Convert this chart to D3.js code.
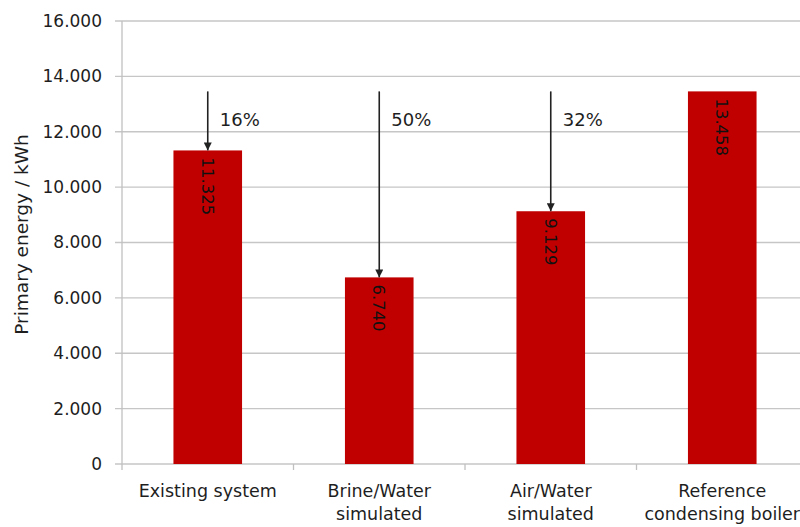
<!DOCTYPE html>
<html>
<head>
<meta charset="utf-8">
<script src="https://cdn.jsdelivr.net/npm/d3@7"></script>
<style>
  body { margin: 0; background: #fff; }
  text { font-family: "DejaVu Sans", sans-serif; fill: #1e1e1e; }
</style>
</head>
<body>
<div id="chart"></div>
<script>
// data
const categories = ["Existing system", "Brine/Water\nsimulated", "Air/Water\nsimulated", "Reference\ncondensing boiler"];
const values = [11325, 6740, 9129, 13458];
const savings = ["16%", "50%", "32%", null];
const yTicks = [0, 2000, 4000, 6000, 8000, 10000, 12000, 14000, 16000];
const referenceValue = 13458;

const W = 800, H = 527;
const margin = {top: 21, left: 122, bottom: 63};

const svg = d3.select("#chart").append("svg")
  .attr("width", W).attr("height", H);

// German style number format (dot as thousands separator)
const locale = d3.formatLocale({decimal: ",", thousands: ".", grouping: [3], currency: ["", " €"]});
const fmt = locale.format(",");

const y = d3.scaleLinear().domain([0, 16000]).range([H - margin.bottom, margin.top]);
const x = d3.scaleBand().domain(d3.range(categories.length))
  .range([margin.left, margin.left + 686])
  .paddingInner(0.6).paddingOuter(0.3);

// gridlines + y tick marks
const grid = svg.append("g");
grid.selectAll("line.grid")
  .data(yTicks)
  .enter().append("line")
  .attr("class", "grid")
  .attr("x1", margin.left - 7)
  .attr("x2", W)
  .attr("y1", d => y(d)).attr("y2", d => y(d))
  .style("stroke", "#c6c6c6")
  .style("stroke-width", 1.3);

// y tick labels
grid.selectAll("text.ytick")
  .data(yTicks)
  .enter().append("text")
  .attr("class", "ytick")
  .attr("x", margin.left - 20)
  .attr("y", d => y(d))
  .attr("dy", "0.35em")
  .attr("text-anchor", "end")
  .style("font-size", "17px")
  .text(d => fmt(d));

// y axis line
svg.append("line")
  .attr("x1", margin.left).attr("x2", margin.left)
  .attr("y1", y(16000)).attr("y2", y(0))
  .style("stroke", "#c0c0c0")
  .style("stroke-width", 1.3);

// x tick marks at band boundaries
const step = x.step();
svg.selectAll("line.xtick")
  .data(d3.range(categories.length + 1))
  .enter().append("line")
  .attr("class", "xtick")
  .attr("x1", d => margin.left + d * step)
  .attr("x2", d => margin.left + d * step)
  .attr("y1", y(0)).attr("y2", y(0) + 6)
  .style("stroke", "#c0c0c0")
  .style("stroke-width", 1.3);

// y axis title
svg.append("text")
  .attr("transform", "translate(28," + (y(8000) - 8) + ") rotate(-90)")
  .attr("text-anchor", "middle")
  .style("font-size", "18.5px")
  .text("Primary energy / kWh");

// bars
svg.selectAll("rect.bar")
  .data(values)
  .enter().append("rect")
  .attr("class", "bar")
  .attr("x", (d, i) => x(i))
  .attr("width", x.bandwidth())
  .attr("y", d => y(d))
  .attr("height", d => y(0) - y(d))
  .style("fill", "#c00000");

// value labels inside bars, rotated
svg.selectAll("text.val")
  .data(values)
  .enter().append("text")
  .attr("class", "val")
  .attr("transform", (d, i) => "translate(" + (x(i) + x.bandwidth() / 2) + "," + (y(d) + 7) + ") rotate(90)")
  .attr("dy", "0.35em")
  .style("font-size", "16.5px")
  .style("fill", "#111")
  .text(d => fmt(d));

// category labels
const cat = svg.selectAll("text.cat")
  .data(categories)
  .enter().append("text")
  .attr("class", "cat")
  .attr("text-anchor", "middle")
  .attr("transform", (d, i) => "translate(" + (x(i) + x.bandwidth() / 2) + "," + (y(0) + 33) + ")")
  .style("font-size", "17.5px");
cat.each(function(d) {
  d.split("\n").forEach((line, j) => {
    d3.select(this).append("tspan")
      .attr("x", 0).attr("y", j * 23)
      .text(line);
  });
});

// arrow marker
svg.append("defs").append("marker")
  .attr("id", "arrow")
  .attr("viewBox", "0 0 10 10")
  .attr("refX", 10).attr("refY", 5)
  .attr("markerWidth", 5).attr("markerHeight", 5)
  .attr("markerUnits", "strokeWidth")
  .attr("orient", "auto")
  .append("path")
  .attr("d", "M0,0 L10,5 L0,10 Z")
  .style("fill", "#222");

// arrows from reference level down to each bar with savings label
const arrows = svg.selectAll("g.arrow")
  .data(values.map((v, i) => ({v, i, s: savings[i]})).filter(d => d.s))
  .enter().append("g")
  .attr("class", "arrow");

arrows.append("line")
  .attr("x1", d => x(d.i) + x.bandwidth() / 2)
  .attr("x2", d => x(d.i) + x.bandwidth() / 2)
  .attr("y1", y(referenceValue))
  .attr("y2", d => y(d.v))
  .style("stroke", "#222")
  .style("stroke-width", 1.6)
  .attr("marker-end", "url(#arrow)");

arrows.append("text")
  .attr("x", d => x(d.i) + x.bandwidth() / 2 + 12)
  .attr("y", y(referenceValue) + 35)
  .style("font-size", "18px")
  .text(d => d.s);
</script>
</body>
</html>
